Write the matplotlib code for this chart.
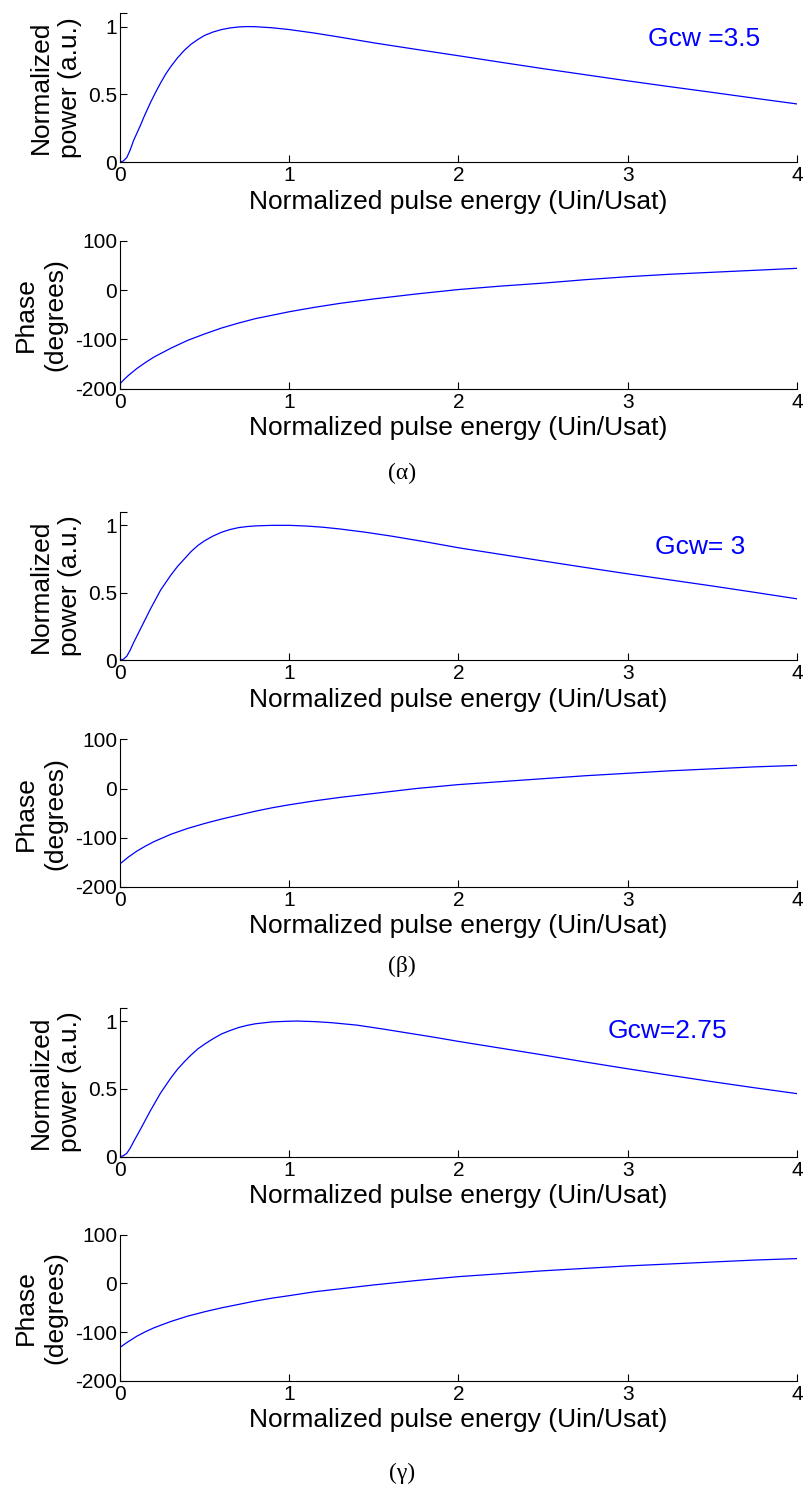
import matplotlib
matplotlib.use("Agg")
import matplotlib.pyplot as plt

plt.rcParams['font.family'] = ['Liberation Sans', 'DejaVu Sans']
plt.rcParams['axes.unicode_minus'] = False

# ---------------- data ----------------
gcw_labels = ["Gcw =3.5", "Gcw= 3", "Gcw=2.75"]
captions = ["(α)", "(β)", "(γ)"]

pow_x_a = [0, 0.02, 0.04, 0.06, 0.08, 0.1, 0.12, 0.14, 0.16, 0.18, 0.21, 0.24, 0.27, 0.3, 0.34, 0.38,
           0.42, 0.46, 0.5, 0.55, 0.6, 0.65, 0.7, 0.75, 0.8, 0.9, 1.0, 1.15, 1.3, 1.5, 1.75, 2.0,
           2.25, 2.5, 2.75, 3.0, 3.25, 3.5, 3.75, 4.0]
pow_y_a = [0, 0.01, 0.035, 0.09, 0.16, 0.215, 0.27, 0.33, 0.385, 0.44, 0.515, 0.585, 0.65, 0.705,
           0.77, 0.825, 0.87, 0.905, 0.935, 0.96, 0.978, 0.99, 0.997, 1.0, 0.999, 0.991, 0.978,
           0.952, 0.922, 0.88, 0.832, 0.785, 0.737, 0.69, 0.645, 0.60, 0.557, 0.515, 0.472, 0.43]

pow_x_b = [0, 0.02, 0.04, 0.06, 0.08, 0.1, 0.12, 0.15, 0.18, 0.21, 0.24, 0.27, 0.3, 0.34, 0.38,
           0.42, 0.46, 0.5, 0.55, 0.6, 0.65, 0.7, 0.75, 0.8, 0.9, 1.0, 1.1, 1.2, 1.3, 1.45, 1.6,
           1.8, 2.0, 2.25, 2.5, 2.75, 3.0, 3.25, 3.5, 3.75, 4.0]
pow_y_b = [0, 0.008, 0.03, 0.075, 0.13, 0.18, 0.23, 0.305, 0.38, 0.45, 0.52, 0.575, 0.63, 0.695,
           0.75, 0.805, 0.85, 0.885, 0.92, 0.948, 0.968, 0.982, 0.99, 0.995, 0.999, 0.999, 0.994,
           0.985, 0.972, 0.948, 0.92, 0.878, 0.833, 0.784, 0.735, 0.687, 0.64, 0.595, 0.55, 0.503, 0.455]

pow_x_c = [0, 0.02, 0.04, 0.06, 0.08, 0.1, 0.12, 0.15, 0.18, 0.21, 0.24, 0.27, 0.3, 0.34, 0.38,
           0.42, 0.46, 0.5, 0.55, 0.6, 0.65, 0.7, 0.75, 0.8, 0.9, 1.0, 1.05, 1.15, 1.25, 1.4, 1.55,
           1.7, 1.85, 2.0, 2.25, 2.5, 2.75, 3.0, 3.25, 3.5, 3.75, 4.0]
pow_y_c = [0, 0.007, 0.025, 0.062, 0.11, 0.155, 0.2, 0.27, 0.34, 0.405, 0.47, 0.525, 0.58, 0.645,
           0.7, 0.75, 0.795, 0.83, 0.87, 0.905, 0.93, 0.952, 0.968, 0.98, 0.994, 0.999, 1.0, 0.996,
           0.988, 0.97, 0.942, 0.912, 0.882, 0.85, 0.8, 0.75, 0.698, 0.648, 0.6, 0.553, 0.508, 0.465]

ph_x = [0, 0.025, 0.05, 0.1, 0.15, 0.2, 0.3, 0.4, 0.5, 0.6, 0.7, 0.8, 0.9, 1.0, 1.15, 1.3, 1.5,
        1.75, 2.0, 2.25, 2.5, 2.75, 3.0, 3.25, 3.5, 3.75, 4.0]
ph_y_a = [-190, -181, -173, -159, -147, -136, -118, -102, -89, -77, -67, -58, -51, -44, -35, -27,
          -18, -8, 1, 8, 14, 21, 27, 32, 36, 40, 44]
ph_y_b = [-153, -146, -139, -127, -117, -108, -93, -81, -71, -62, -54, -46, -39, -33, -25, -18,
          -10, 0, 8, 14, 20, 26, 31, 36, 40, 44, 47]
ph_y_c = [-131, -125, -119, -108, -99, -91, -78, -67, -58, -50, -43, -36, -30, -25, -17, -11,
          -3, 6, 14, 20, 26, 31, 36, 40, 44, 48, 51]

x_ticks = [0, 1, 2, 3, 4]
pow_ticks = [0, 0.5, 1]
pow_tick_labels = ["0", "0.5", "1"]
ph_ticks = [-200, -100, 0, 100]

xlabel = "Normalized pulse energy (Uin/Usat)"
pow_ylabel = "Normalized\npower (a.u.)"
ph_ylabel = "Phase\n(degrees)"

power_sets = [(pow_x_a, pow_y_a), (pow_x_b, pow_y_b), (pow_x_c, pow_y_c)]
phase_sets = [ph_y_a, ph_y_b, ph_y_c]

# ---------------- layout ----------------
W, H = 804, 1488
fig = plt.figure(figsize=(W / 100, H / 100), dpi=100)

left_px, right_px = 120, 797
pow_px = [(13, 162.3), (511.7, 660.3), (1007.5, 1156.7)]
ph_px = [(240.7, 388.7), (739.3, 887), (1234.7, 1381)]
gcw_pos = [(3.12, 0.911), (3.16, 0.84), (2.88, 0.93)]
cap_y_px = [473, 966, 1473]

blue = (0, 0, 1)


def make_axes(top, bottom):
    return fig.add_axes([left_px / W, 1 - bottom / H, (right_px - left_px) / W, (bottom - top) / H])


def style(ax):
    ax.spines['top'].set_visible(False)
    ax.spines['right'].set_visible(False)
    for s in ('left', 'bottom'):
        ax.spines[s].set_linewidth(0.8)
    ax.tick_params(which='both', direction='in', length=5, width=0.8, labelsize=15, pad=3)
    ax.tick_params(axis='y', pad=2)
    ax.set_xlim(0, 4)
    ax.set_xticks(x_ticks)
    ax.set_xlabel(xlabel, fontsize=19, labelpad=3)


for i in range(3):
    ax = make_axes(*pow_px[i])
    px, py = power_sets[i]
    ax.plot(px, py, color=blue, lw=0.9)
    style(ax)
    ax.set_ylim(0, 1.1)
    ax.set_yticks(pow_ticks)
    ax.set_yticklabels(pow_tick_labels)
    ax.set_yticks([1.1], minor=True)
    ax.set_ylabel(pow_ylabel, fontsize=19, linespacing=1.3)
    ax.yaxis.set_label_coords(-0.056, 0.5)
    ax.text(gcw_pos[i][0], gcw_pos[i][1], gcw_labels[i], color=blue, fontsize=19,
            ha='left', va='center')

    ax2 = make_axes(*ph_px[i])
    ax2.plot(ph_x, phase_sets[i], color=blue, lw=0.9)
    style(ax2)
    ax2.set_ylim(-200, 100)
    ax2.set_yticks(ph_ticks)
    ax2.set_ylabel(ph_ylabel, fontsize=19, linespacing=1.3)
    ax2.yaxis.set_label_coords(-0.077, 0.5)

    fig.text(402 / W, 1 - cap_y_px[i] / H, captions[i], fontsize=17,
             family=['Liberation Serif', 'DejaVu Serif'], ha='center', va='center')

fig.savefig("out.png", dpi=100)
